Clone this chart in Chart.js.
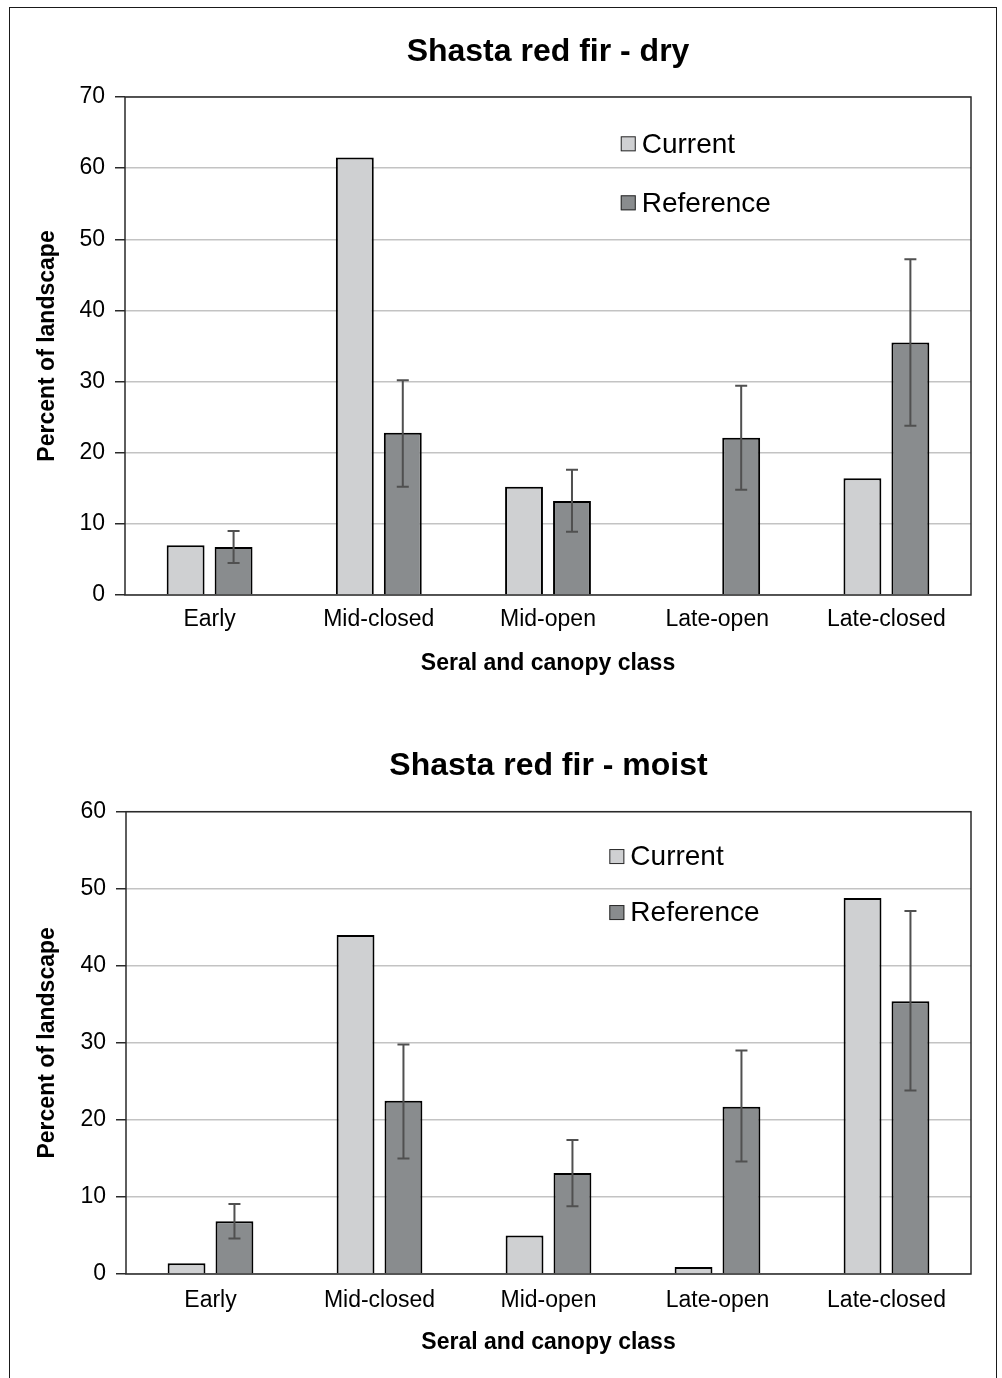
<!DOCTYPE html>
<html>
<head>
<meta charset="utf-8">
<title>Shasta red fir</title>
<script src="https://cdn.jsdelivr.net/npm/chart.js@4.4.1/dist/chart.umd.min.js"></script>
<style>
    html, body { margin: 0; padding: 0; background: #fff; }
    #page { position: relative; width: 1002px; height: 1378px; overflow: hidden; }
    #frame {
        position: absolute; left: 9px; top: 7px; width: 986px; height: 1400px;
        border: 1.5px solid #1a1a1a; border-bottom: none;
    }
    canvas { position: absolute; left: 0; }
    #dryChart { top: 0; }
    #moistChart { top: 700px; }
</style>
</head>
<body>
<div id="page">
    <div id="frame"></div>
    <canvas id="dryChart" width="1002" height="700"></canvas>
    <canvas id="moistChart" width="1002" height="678"></canvas>
</div>
<script>
var categories = ['Early', 'Mid-closed', 'Mid-open', 'Late-open', 'Late-closed'];
var seriesNames = ['Current', 'Reference'];

var dryCurrent = [7.0, 61.5, 15.2, 0, 16.4];
var dryReference = [6.75, 22.8, 13.2, 22.1, 35.5];
var dryRefLow = [4.5, 15.2, 8.9, 14.8, 23.8];
var dryRefHigh = [9.0, 30.2, 17.6, 29.4, 47.2];

var moistCurrent = [1.4, 44.0, 5.0, 0.9, 48.8];
var moistReference = [6.85, 22.5, 13.1, 21.7, 35.4];
var moistRefLow = [4.6, 15.0, 8.8, 14.6, 23.8];
var moistRefHigh = [9.1, 29.8, 17.4, 29.0, 47.1];

var dryTicks = [0, 10, 20, 30, 40, 50, 60, 70];
var moistTicks = [0, 10, 20, 30, 40, 50, 60];

(function () {
    var FONT = '"Liberation Sans", Arial, sans-serif';
    var CURRENT_FILL = '#cfd0d2';
    var REFERENCE_FILL = '#898c8e';

    // frame round the plot area
    var plotBorder = {
        id: 'plotBorder',
        beforeDatasetsDraw: function (chart) {
            var a = chart.chartArea;
            var ctx = chart.ctx;
            ctx.save();
            ctx.strokeStyle = '#2a2a2a';
            ctx.lineWidth = 1.5;
            ctx.strokeRect(a.left, a.top, a.right - a.left, a.bottom - a.top);
            ctx.restore();
        }
    };

    var errorBars = {
        id: 'errorBars',
        afterDatasetsDraw: function (chart, args, opts) {
            if (!opts || !opts.low) {
                return;
            }
            var meta = chart.getDatasetMeta(opts.datasetIndex);
            var yScale = chart.scales.y;
            var ctx = chart.ctx;
            ctx.save();
            ctx.strokeStyle = '#505050';
            ctx.lineWidth = 2;
            meta.data.forEach(function (bar, i) {
                var yLo = yScale.getPixelForValue(opts.low[i]);
                var yHi = yScale.getPixelForValue(opts.high[i]);
                var x = bar.x;
                ctx.beginPath();
                ctx.moveTo(x, yLo);
                ctx.lineTo(x, yHi);
                ctx.moveTo(x - 6, yLo);
                ctx.lineTo(x + 6, yLo);
                ctx.moveTo(x - 6, yHi);
                ctx.lineTo(x + 6, yHi);
                ctx.stroke();
            });
            ctx.restore();
        }
    };

    // legend sits inside the plot area, as in the source figure
    var boxLegend = {
        id: 'boxLegend',
        afterDraw: function (chart, args, opts) {
            var a = chart.chartArea;
            var ctx = chart.ctx;
            var x = a.left + (a.right - a.left) * opts.xFrac;
            var y = a.top + (a.bottom - a.top) * opts.yFrac;
            ctx.save();
            ctx.font = '28px ' + FONT;
            ctx.textBaseline = 'middle';
            ctx.textAlign = 'left';
            chart.data.datasets.forEach(function (ds, i) {
                var cy = y + i * opts.rowGap;
                ctx.fillStyle = ds.backgroundColor;
                ctx.fillRect(x, cy - 7.5, 15, 15);
                ctx.strokeStyle = '#2a2a2a';
                ctx.lineWidth = 1;
                ctx.strokeRect(x + 0.5, cy - 7, 14, 14);
                ctx.fillStyle = '#000';
                ctx.fillText(ds.label, x + 21, cy + 1);
            });
            ctx.restore();
        }
    };

    function buildChart(canvasId, cfg) {
        var el = document.getElementById(canvasId);
        if (!el) {
            return;
        }
        var yMax = cfg.ticks[cfg.ticks.length - 1];
        new Chart(el.getContext('2d'), {
            type: 'bar',
            data: {
                labels: categories,
                datasets: [{
                    label: seriesNames[0],
                    data: cfg.current,
                    backgroundColor: CURRENT_FILL,
                    borderColor: '#000',
                    borderWidth: 2,
                    categoryPercentage: 0.567,
                    barPercentage: 0.79
                }, {
                    label: seriesNames[1],
                    data: cfg.reference,
                    backgroundColor: REFERENCE_FILL,
                    borderColor: '#000',
                    borderWidth: 2,
                    categoryPercentage: 0.567,
                    barPercentage: 0.79
                }]
            },
            options: {
                responsive: false,
                animation: false,
                layout: {
                    padding: { left: 0, top: 0, right: 1002 - 971, bottom: 0 }
                },
                plugins: {
                    legend: { display: false },
                    tooltip: { enabled: false },
                    title: {
                        display: true,
                        text: cfg.title,
                        fullSize: false,
                        color: '#000',
                        font: { family: FONT, size: 32, weight: 'bold', lineHeight: 1.2 },
                        padding: { top: cfg.titleTop, bottom: cfg.titleBottom }
                    },
                    errorBars: { datasetIndex: 1, low: cfg.low, high: cfg.high },
                    boxLegend: cfg.legend
                },
                scales: {
                    x: {
                        grid: { display: false },
                        border: { display: false },
                        ticks: {
                            color: '#000',
                            padding: cfg.xTickPad,
                            font: { family: FONT, size: 23, lineHeight: 1.2 }
                        },
                        title: {
                            display: true,
                            text: 'Seral and canopy class',
                            color: '#000',
                            font: { family: FONT, size: 23, weight: 'bold', lineHeight: 1.2 },
                            padding: { top: 0, bottom: cfg.xTitleBottom }
                        },
                        afterFit: function (scale) {
                            scale.height = cfg.xHeight;
                        }
                    },
                    y: {
                        min: 0,
                        max: yMax,
                        afterBuildTicks: function (scale) {
                            scale.ticks = cfg.ticks.map(function (v) { return { value: v }; });
                        },
                        grid: {
                            color: '#c3c3c3',
                            lineWidth: 1.5,
                            tickLength: 10,
                            tickColor: '#2a2a2a',
                            tickWidth: 1.5
                        },
                        border: { display: false },
                        ticks: {
                            color: '#000',
                            padding: 10,
                            font: { family: FONT, size: 23, lineHeight: 1.2 }
                        },
                        title: {
                            display: true,
                            text: 'Percent of landscape',
                            color: '#000',
                            font: { family: FONT, size: 23, weight: 'bold', lineHeight: 1.2 },
                            padding: { top: 34, bottom: 0 }
                        },
                        afterFit: function (scale) {
                            scale.width = cfg.yWidth;
                        }
                    }
                }
            },
            plugins: [plotBorder, errorBars, boxLegend]
        });
    }

    function init() {
        if (!window.Chart) {
            console.error('Chart.js was not loaded');
            return;
        }
        buildChart('dryChart', {
            title: 'Shasta red fir - dry',
            current: dryCurrent,
            reference: dryReference,
            low: dryRefLow,
            high: dryRefHigh,
            ticks: dryTicks,
            titleTop: 32.8,
            titleBottom: 25.8,
            xHeight: 105,
            xTickPad: 3,
            xTitleBottom: 22.2,
            yWidth: 125,
            legend: { xFrac: 0.586, yFrac: 0.094, rowGap: 59 }
        });
        buildChart('moistChart', {
            title: 'Shasta red fir - moist',
            current: moistCurrent,
            reference: moistReference,
            low: moistRefLow,
            high: moistRefHigh,
            ticks: moistTicks,
            titleTop: 46.8,
            titleBottom: 26.5,
            xHeight: 104,
            xTickPad: 5,
            xTitleBottom: 21.2,
            yWidth: 126,
            legend: { xFrac: 0.572, yFrac: 0.097, rowGap: 56 }
        });
    }

    if (document.readyState === 'loading') {
        document.addEventListener('DOMContentLoaded', init);
    } else {
        init();
    }
})();
</script>
</body>
</html>
